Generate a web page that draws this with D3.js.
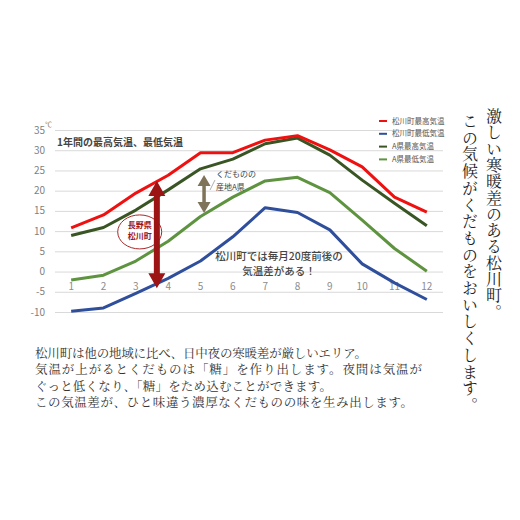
<!DOCTYPE html>
<html>
<head>
<meta charset="utf-8">
<script src="https://cdn.jsdelivr.net/npm/d3@7"></script>
<style>
  body { margin: 0; background: #fff; }
  svg { display: block; }
  .jp { font-family: "Noto Sans CJK JP", sans-serif; }
  .serif { font-family: "Noto Serif CJK JP", "Noto Sans CJK JP", serif; }
</style>
</head>
<body>
<div id="chart"></div>
<script>
// months on the x axis
var months = [1, 2, 3, 4, 5, 6, 7, 8, 9, 10, 11, 12];
// 松川町 max / min, A県 max / min (°C)
var matsuMax = [10.8, 14.0, 19.4, 23.8, 29.4, 29.4, 32.5, 33.6, 30.1, 25.9, 18.4, 14.7];
var matsuMin = [-9.8, -9.0, -5.4, -1.7, 2.6, 8.6, 15.8, 14.6, 10.3, 1.9, -2.8, -6.9];
var aMax = [8.9, 10.9, 15.2, 20.2, 25.4, 27.8, 31.6, 33.0, 28.8, 22.6, 16.9, 11.3];
var aMin = [-2.1, -0.9, 2.6, 7.5, 13.6, 18.4, 22.4, 23.3, 19.5, 12.7, 5.7, 0.1];
var seriesNames = ["松川町最高気温", "松川町最低気温", "A県最高気温", "A県最低気温"];
var yTicks = [-10, -5, 0, 5, 10, 15, 20, 25, 30, 35];

var paragraph = [
  "松川町は他の地域に比べ、日中夜の寒暖差が厳しいエリア。",
  "気温が上がるとくだものは「糖」を作り出します。夜間は気温が",
  "ぐっと低くなり、「糖」をため込むことができます。",
  "この気温差が、ひと味違う濃厚なくだものの味を生み出します。"
];
var headline = ["激しい寒暖差のある松川町。", "この気候がくだものをおいしくします。"];

var width = 520, height = 520;
var colors = ["#f01010", "#2f4f9c", "#3a5524", "#5e9340"];

var svg = d3.select("#chart").append("svg")
    .attr("width", width)
    .attr("height", height);

var x = d3.scaleLinear().domain([0.5, 12.5]).range([55, 443]);
var y = d3.scaleLinear().domain([-10, 35]).range([312, 130]);

// grid
svg.append("g")
    .attr("class", "grid")
    .attr("transform", "translate(55,0)")
    .call(d3.axisLeft(y).tickValues(yTicks).tickSize(-(443 - 55)).tickFormat(""))
    .call(function(g) {
      g.select(".domain").remove();
      g.selectAll("line").attr("stroke", "#d9d9d9");
    });

// y labels
svg.append("g")
    .selectAll("text")
    .data(yTicks)
  .enter().append("text")
    .attr("class", "jp")
    .attr("x", 45)
    .attr("y", function(d) { return y(d); })
    .attr("dy", "0.35em")
    .attr("text-anchor", "end")
    .attr("font-size", 10)
    .attr("fill", "#7f7f7f")
    .text(function(d) { return d; });

svg.append("text")
    .attr("class", "jp")
    .attr("x", 45)
    .attr("y", y(35) - 3)
    .attr("font-size", 7)
    .attr("fill", "#7f7f7f")
    .text("℃");

// x labels sit just under the zero line
svg.append("g")
    .selectAll("text")
    .data(months)
  .enter().append("text")
    .attr("class", "jp")
    .attr("x", function(d) { return x(d); })
    .attr("y", y(-3.6))
    .attr("dy", "0.35em")
    .attr("text-anchor", "middle")
    .attr("font-size", 10)
    .attr("fill", "#8c8c8c")
    .text(function(d) { return d; });

svg.append("text")
    .attr("class", "jp")
    .attr("x", 57)
    .attr("y", 142)
    .attr("dy", "0.35em")
    .attr("font-size", 10)
    .attr("font-weight", "bold")
    .attr("fill", "#444")
    .text("1年間の最高気温、最低気温");

var line = d3.line()
    .x(function(d, i) { return x(months[i]); })
    .y(function(d) { return y(d); });

var series = [matsuMax, matsuMin, aMax, aMin];
[3, 2, 1, 0].forEach(function(i) {
  svg.append("path")
      .datum(series[i])
      .attr("fill", "none")
      .attr("stroke", colors[i])
      .attr("stroke-width", 3)
      .attr("stroke-linejoin", "round")
      .attr("d", line);
});

// legend
var legend = svg.append("g").selectAll("g")
    .data(seriesNames)
  .enter().append("g")
    .attr("transform", function(d, i) { return "translate(379," + (121 + i * 12.8) + ")"; });
legend.append("line")
    .attr("x2", 8)
    .attr("stroke", function(d, i) { return colors[i]; })
    .attr("stroke-width", 2);
legend.append("text")
    .attr("class", "jp")
    .attr("x", 13)
    .attr("dy", "0.35em")
    .attr("font-size", 7.5)
    .attr("fill", "#555")
    .text(function(d) { return d; });

// annotations
function arrow(xm, v1, v2, shaft, headW, headL, color) {
  var cx = x(xm), t = y(v1), b = y(v2);
  var pts = [
    [cx, t], [cx + headW / 2, t + headL], [cx + shaft / 2, t + headL],
    [cx + shaft / 2, b - headL], [cx + headW / 2, b - headL], [cx, b],
    [cx - headW / 2, b - headL], [cx - shaft / 2, b - headL],
    [cx - shaft / 2, t + headL], [cx - headW / 2, t + headL]
  ];
  svg.append("path")
      .attr("d", "M" + pts.join("L") + "Z")
      .attr("fill", color);
}

svg.append("ellipse")
    .attr("cx", x(3.12))
    .attr("cy", y(9.8))
    .attr("rx", 22)
    .attr("ry", 17)
    .attr("fill", "#fff")
    .attr("stroke", "#a52a2a")
    .attr("stroke-width", 1);

arrow(3.65, 22.4, -4.1, 6, 17, 15, "#9c1414");
arrow(5.11, 23.9, 14.5, 3.5, 13, 11, "#7f7459");

svg.append("line")
    .attr("x1", 210).attr("y1", 190)
    .attr("x2", 215).attr("y2", 180)
    .attr("stroke", "#999")
    .attr("stroke-width", 0.8);

svg.append("text")
    .attr("class", "jp")
    .attr("text-anchor", "middle")
    .attr("font-size", 8)
    .attr("font-weight", "bold")
    .attr("fill", "#9c1414")
    .selectAll("tspan")
    .data(["長野県", "松川町"])
  .enter().append("tspan")
    .attr("x", x(3.12))
    .attr("y", function(d, i) { return y(9.8) - 4 + i * 11; })
    .text(function(d) { return d; });

svg.append("text")
    .attr("class", "jp")
    .attr("font-size", 8)
    .attr("fill", "#444")
    .selectAll("tspan")
    .data(["くだものの", "産地A県"])
  .enter().append("tspan")
    .attr("x", 216)
    .attr("y", function(d, i) { return 177 + i * 13; })
    .text(function(d) { return d; });

svg.append("text")
    .attr("class", "jp")
    .attr("font-size", 10.5)
    .attr("fill", "#444")
    .attr("font-weight", 500)
    .attr("text-anchor", "middle")
    .selectAll("tspan")
    .data(["松川町では毎月20度前後の", "気温差がある！"])
  .enter().append("tspan")
    .attr("x", 279)
    .attr("y", function(d, i) { return 260 + i * 15; })
    .text(function(d) { return d; });

// paragraph under the chart
var paraLen = [332, 387, 297, 378];
svg.append("g")
    .selectAll("text")
    .data(paragraph)
  .enter().append("text")
    .attr("class", "serif")
    .attr("x", 35)
    .attr("y", function(d, i) { return 358 + i * 16.3; })
    .attr("font-size", 12.5)
    .attr("fill", "#333")
    .attr("textLength", function(d, i) { return paraLen[i]; })
    .attr("lengthAdjust", "spacing")
    .text(function(d) { return d; });

// vertical headline on the right
svg.append("g")
    .selectAll("text")
    .data(headline)
  .enter().append("text")
    .attr("class", "serif")
    .attr("x", function(d, i) { return i === 0 ? 494 : 470; })
    .attr("y", function(d, i) { return i === 0 ? 108 : 113; })
    .attr("font-size", 16)
    .attr("fill", "#222")
    .style("writing-mode", "vertical-rl")
    .style("letter-spacing", function(d, i) { return i === 0 ? "0.3px" : "0.7px"; })
    .text(function(d) { return d; });
</script>
</body>
</html>
